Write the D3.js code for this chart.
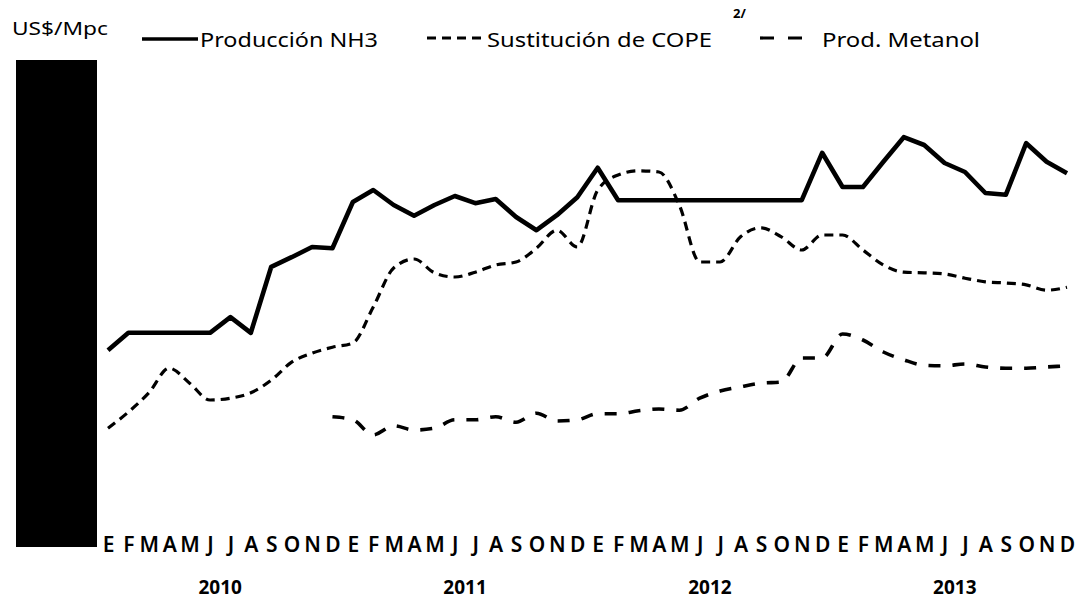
<!DOCTYPE html>
<html>
<head>
<meta charset="utf-8">
<script src="https://cdn.jsdelivr.net/npm/d3@7"></script>
<style>
  html, body { margin: 0; padding: 0; background: #fff; }
  svg { display: block; }
  text { font-family: "Noto Sans", "Open Sans", "DejaVu Sans", sans-serif; fill: #000; }
</style>
</head>
<body>
<svg id="chart" width="1079" height="603"></svg>
<script>
// Monthly prices, US$/Mpc, January 2010 – December 2013
const months = ["E","F","M","A","M","J","J","A","S","O","N","D"];
const years = ["2010","2011","2012","2013"];

const produccionNH3 = [
  3.28,3.57,3.57,3.57,3.57,3.57,3.83,3.57,4.67,4.83,5.00,4.98,
  5.75,5.95,5.70,5.52,5.70,5.85,5.73,5.80,5.50,5.28,5.53,5.83,
  6.32,5.78,5.78,5.78,5.78,5.78,5.78,5.78,5.78,5.78,5.78,6.57,
  6.00,6.00,6.42,6.83,6.70,6.40,6.25,5.90,5.87,6.73,6.42,6.23
];

const sustitucionCOPE = [
  1.98,2.25,2.57,2.98,2.73,2.45,2.48,2.57,2.78,3.08,3.23,3.33,
  3.40,4.00,4.65,4.80,4.57,4.50,4.58,4.70,4.75,4.98,5.28,5.00,
  5.95,6.20,6.27,6.25,5.70,4.75,4.75,5.17,5.32,5.17,4.95,5.20,
  5.20,4.95,4.70,4.58,4.57,4.55,4.48,4.42,4.40,4.37,4.28,4.33
];

const prodMetanol = [
  null,null,null,null,null,null,null,null,null,null,null,2.17,
  2.12,1.87,2.02,1.95,1.98,2.12,2.12,2.17,2.08,2.23,2.10,2.12,
  2.22,2.22,2.27,2.30,2.28,2.48,2.60,2.67,2.73,2.75,3.15,3.15,
  3.55,3.45,3.25,3.12,3.03,3.02,3.05,3.00,2.98,2.98,3.00,3.02
];

const svg = d3.select("#chart");

const idx = d3.range(48);
const x = d3.scalePoint().domain(idx).range([108, 1067]);
const y = d3.scaleLinear().domain([0, 8]).range([547, 67]);

// Masked value axis panel
svg.append("rect")
  .attr("x", 16).attr("y", 60)
  .attr("width", 81).attr("height", 487)
  .attr("fill", "#000");

// Series
const lineLinear = d3.line()
  .defined(d => d != null)
  .x((d, i) => x(i)).y(d => y(d));
const lineSmooth = d3.line()
  .defined(d => d != null)
  .x((d, i) => x(i)).y(d => y(d))
  .curve(d3.curveMonotoneX);

svg.append("path")
  .datum(sustitucionCOPE)
  .attr("d", lineSmooth)
  .attr("fill", "none").attr("stroke", "#000")
  .attr("stroke-width", 3.2)
  .attr("stroke-dasharray", "9,6");

svg.append("path")
  .datum(prodMetanol)
  .attr("d", lineSmooth)
  .attr("fill", "none").attr("stroke", "#000")
  .attr("stroke-width", 3.6)
  .attr("stroke-dasharray", "12,12");

svg.append("path")
  .datum(produccionNH3)
  .attr("d", lineLinear)
  .attr("fill", "none").attr("stroke", "#000")
  .attr("stroke-width", 4.6)
  .attr("stroke-linejoin", "round");

// Month axis
const xAxis = d3.axisBottom(x)
  .tickSize(0)
  .tickPadding(0)
  .tickFormat(i => months[i % 12]);

const gx = svg.append("g")
  .attr("transform", "translate(0,552)")
  .call(xAxis);
gx.select(".domain").remove();
gx.selectAll("text")
  .attr("dy", 0)
  .attr("y", 0)
  .style("font-size", "21px")
  .style("font-weight", 600)
  .style("fill", "#000");

// Year labels centred under each block of months
svg.append("g").selectAll("text")
  .data(years)
  .join("text")
  .attr("x", (d, k) => (x(k * 12 + 5) + x(k * 12 + 6)) / 2)
  .attr("y", 594)
  .attr("text-anchor", "middle")
  .style("font-size", "19px")
  .style("font-weight", 700)
  .text(d => d);

// Unit label
svg.append("text")
  .attr("x", 12).attr("y", 35)
  .style("font-size", "18px")
  .attr("textLength", 96).attr("lengthAdjust", "spacingAndGlyphs")
  .text("US$/Mpc");

// Legend
const legend = svg.append("g");
legend.append("line")
  .attr("x1", 142).attr("x2", 198).attr("y1", 39).attr("y2", 39)
  .attr("stroke", "#000").attr("stroke-width", 3.5);
legend.append("text")
  .attr("x", 200).attr("y", 47)
  .style("font-size", "19px")
  .attr("textLength", 178).attr("lengthAdjust", "spacingAndGlyphs")
  .text("Producción NH3");

legend.append("line")
  .attr("x1", 427).attr("x2", 485).attr("y1", 38).attr("y2", 38)
  .attr("stroke", "#000").attr("stroke-width", 3)
  .attr("stroke-dasharray", "9,6");
legend.append("text")
  .attr("x", 487).attr("y", 47)
  .style("font-size", "19px")
  .attr("textLength", 225).attr("lengthAdjust", "spacingAndGlyphs")
  .text("Sustitución de COPE");
legend.append("text")
  .attr("x", 733).attr("y", 18)
  .style("font-size", "13px")
  .style("font-weight", 700)
  .text("2/");

legend.append("line")
  .attr("x1", 760).attr("x2", 803).attr("y1", 38).attr("y2", 38)
  .attr("stroke", "#000").attr("stroke-width", 3.2)
  .attr("stroke-dasharray", "14,14");
legend.append("text")
  .attr("x", 822).attr("y", 47)
  .style("font-size", "19px")
  .attr("textLength", 158).attr("lengthAdjust", "spacingAndGlyphs")
  .text("Prod. Metanol");
</script>
</body>
</html>
